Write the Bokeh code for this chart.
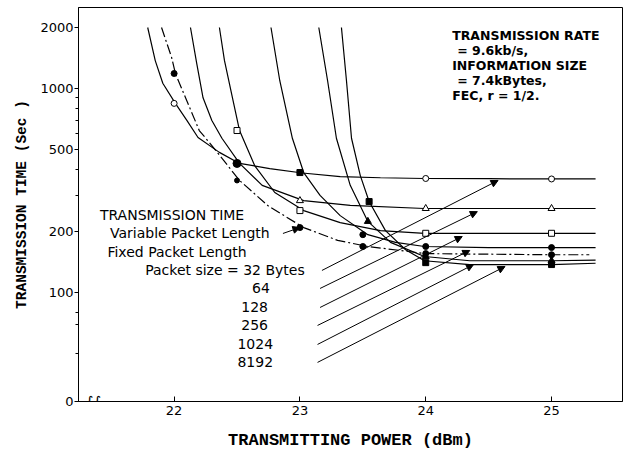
from bokeh.plotting import figure
from bokeh.models import (Range1d, FixedTicker, CustomJSTickFormatter, Label,
                          Arrow, NormalHead, ColumnDataSource)
from bokeh.embed import file_html
from bokeh.resources import INLINE

# ---------------- data ----------------
x_ticks = [22, 23, 24, 25]
y_ticks = [29.2, 100, 200, 500, 1000, 2000]
y_minor = [50, 70, 80, 300, 400, 600, 700, 800, 900]

# Fixed packet length curves (power dBm, time s)
power_32 = [21.79, 21.85, 21.91, 22.01, 22.10, 22.19, 22.36, 22.52, 22.76, 23.02, 23.32, 23.64, 23.99, 24.5, 24.99, 25.35]
time_32 = [1990, 1370, 1060, 845, 700, 575, 486, 429, 405, 385, 370, 365, 362, 361, 360, 360]

power_64 = [22.13, 22.18, 22.23, 22.30, 22.38, 22.52, 22.70, 23.03, 23.40, 23.99, 24.5, 25.0, 25.35]
time_64 = [1990, 1325, 900, 697, 570, 429, 335, 282, 267, 258, 258, 258, 258]

power_128 = [22.36, 22.40, 22.46, 22.52, 22.64, 22.80, 23.03, 23.32, 23.64, 23.99, 24.5, 25.0, 25.35]
time_128 = [1990, 1372, 922, 622, 419, 309, 252, 220, 201, 195, 195, 195, 195]

power_256 = [22.77, 22.84, 22.94, 23.03, 23.16, 23.32, 23.54, 23.76, 23.99, 24.5, 25.0, 25.35]
time_256 = [1990, 1091, 570, 387, 299, 238, 192, 176, 168, 166, 166, 166]

power_1024 = [23.15, 23.22, 23.29, 23.40, 23.54, 23.72, 23.99, 24.35, 25.0, 25.35]
time_1024 = [1990, 1091, 570, 335, 223, 176, 150, 143, 143, 144]

power_8192 = [23.33, 23.37, 23.41, 23.48, 23.55, 23.68, 23.84, 23.99, 24.35, 25.0, 25.35]
time_8192 = [1990, 1091, 570, 374, 279, 201, 162, 143, 137, 137, 139]

# Variable packet length (dash-dot)
power_var = [21.90, 21.98, 22.01, 22.10, 22.20, 22.30, 22.52, 22.75, 23.03, 23.30, 23.54, 24.0, 24.5, 25.0, 25.3]
time_var = [1990, 1420, 1184, 873, 622, 525, 354, 265, 208, 180, 168, 155, 154, 153, 153]

# Markers
open_circle_x = [22.0, 24.0, 25.0]
open_circle_y = [845, 362, 360]
open_tri_x = [23.0, 24.0, 25.0]
open_tri_y = [282, 258, 258]
open_sq_x = [22.5, 23.0, 24.0, 25.0]
open_sq_y = [622, 252, 195, 195]
filled_circle_x = [22.5, 23.5, 24.0, 25.0, 22.0, 22.5, 23.0, 23.5, 24.0, 25.0]
filled_circle_y = [429, 192, 168, 166, 1184, 354, 208, 168, 155, 153]
filled_circle_size = [8, 6, 6, 6, 6, 5, 6, 6, 6, 6]
filled_tri_x = [23.54, 24.0, 25.0]
filled_tri_y = [223, 150, 143]
filled_sq_x = [23.0, 23.55, 24.0, 25.0]
filled_sq_y = [387, 279, 140, 137]

# Leader arrows (packet-size labels -> curves)
arrow_x0 = [23.175, 23.16, 23.16, 23.14, 23.14, 23.14, 22.865]
arrow_y0 = [128.2, 104.6, 84.4, 68.9, 55.6, 45.4, 194.6]
arrow_x1 = [24.575, 24.41, 24.29, 24.35, 24.38, 24.63, 23.0]
arrow_y1 = [354, 249, 188, 160.6, 137, 134, 208]

# Text blocks
info_text = ["TRANSMISSION RATE", "= 9.6kb/s,", "INFORMATION SIZE", "= 7.4kBytes,", "FEC,  r = 1/2."]
info_x = [24.21, 24.25, 24.21, 24.25, 24.21]
info_y = [1820, 1536, 1297, 1095, 924]

legend_text = ["TRANSMISSION TIME", "Variable Packet Length", "Fixed Packet Length", "Packet size = 32 Bytes"]
legend_x = [21.41, 21.49, 21.47, 21.77]
legend_y = [238.5, 194.6, 157, 128.2]

size_text = ["64", "128", "256", "1024", "8192"]
size_x = [22.69, 22.64, 22.64, 22.645, 22.645]
size_y = [104.6, 84.4, 68.9, 55.6, 45.4]

# ---------------- figure ----------------
p = figure(frame_width=544, frame_height=394,
           min_border_left=78, min_border_right=2, min_border_top=7, min_border_bottom=48,
           x_range=Range1d(21.24, 25.564), y_range=Range1d(29.2, 2494),
           y_axis_type="log", output_backend="svg", toolbar_location=None)
p.grid.visible = False
p.outline_line_color = "black"
p.outline_line_width = 1
p.background_fill_color = "white"
p.border_fill_color = "white"

# x axis
xa = p.xaxis[0]
xa.ticker = FixedTicker(ticks=x_ticks)
xa.major_tick_in = 5
xa.major_tick_out = 0
xa.minor_tick_in = 0
xa.minor_tick_out = 0
xa.major_label_standoff = 4
xa.major_label_text_font = "DejaVu Sans"
xa.major_label_text_font_size = "13px"
xa.major_label_text_color = "black"
xa.axis_label = "TRANSMITTING POWER (dBm)"
xa.axis_label_text_font = "Liberation Mono"
xa.axis_label_text_font_style = "bold"
xa.axis_label_text_font_size = "17px"
xa.axis_label_text_color = "black"
xa.axis_label_standoff = 13
xa.axis_line_color = "black"
xa.major_tick_line_color = "black"

# y axis
ya = p.yaxis[0]
ya.ticker = FixedTicker(ticks=y_ticks, minor_ticks=y_minor)
ya.formatter = CustomJSTickFormatter(code="return tick < 50 ? '0' : tick.toFixed(0);")
ya.major_tick_in = 0
ya.major_tick_out = 4
ya.minor_tick_in = 0
ya.minor_tick_out = 3
ya.major_label_standoff = 1
ya.major_label_text_font = "DejaVu Sans"
ya.major_label_text_font_size = "13px"
ya.major_label_text_color = "black"
ya.axis_label = "TRANSMISSION TIME (Sec )"
ya.axis_label_text_font = "Liberation Mono"
ya.axis_label_text_font_style = "bold"
ya.axis_label_text_font_size = "14.5px"
ya.axis_label_text_color = "black"
ya.axis_label_standoff = 7
ya.axis_line_color = "black"
ya.major_tick_line_color = "black"
ya.minor_tick_line_color = "black"

# curves
for xs, ys in [(power_32, time_32), (power_64, time_64), (power_128, time_128),
               (power_256, time_256), (power_1024, time_1024), (power_8192, time_8192)]:
    p.line(xs, ys, line_color="black", line_width=1.2)
p.line(power_var, time_var, line_color="black", line_width=1.2, line_dash="10 3 2 3")

# markers
p.scatter(open_circle_x, open_circle_y, marker="circle", size=6, fill_color="white", line_color="black", line_width=1)
p.scatter(open_tri_x, open_tri_y, marker="triangle", size=7, fill_color="white", line_color="black", line_width=1)
p.scatter(open_sq_x, open_sq_y, marker="square", size=6, fill_color="white", line_color="black", line_width=1)
p.scatter(filled_circle_x, filled_circle_y, marker="circle", size=filled_circle_size, fill_color="black", line_color="black")
p.scatter(filled_tri_x, filled_tri_y, marker="triangle", size=7, fill_color="black", line_color="black")
p.scatter(filled_sq_x, filled_sq_y, marker="square", size=6, fill_color="black", line_color="black")

# arrows
arrow_src = ColumnDataSource(dict(x0=arrow_x0, y0=arrow_y0, x1=arrow_x1, y1=arrow_y1))
p.add_layout(Arrow(source=arrow_src, x_start="x0", y_start="y0", x_end="x1", y_end="y1",
                   line_color="black", line_width=1,
                   end=NormalHead(size=7, fill_color="black", line_color="black", line_width=1)))

# text
for t, x, y in zip(info_text, info_x, info_y):
    p.add_layout(Label(x=x, y=y, text=t, text_font="DejaVu Sans", text_font_style="bold",
                       text_font_size="12.5px", text_baseline="middle", text_align="left",
                       text_color="black"))
for t, x, y in zip(legend_text, legend_x, legend_y):
    p.add_layout(Label(x=x, y=y, text=t, text_font="DejaVu Sans",
                       text_font_size="14px", text_baseline="middle", text_align="left",
                       text_color="black"))
for t, x, y in zip(size_text, size_x, size_y):
    p.add_layout(Label(x=x, y=y, text=t, text_font="DejaVu Sans",
                       text_font_size="14px", text_baseline="middle", text_align="center",
                       text_color="black"))

# axis break mark
p.add_layout(Label(x=21.36, y=29.2, text="∫∫", text_font="DejaVu Sans", text_font_size="15px",
                   text_baseline="middle", text_align="center", text_color="black"))

open("out.html", "w").write(file_html(p, INLINE))
